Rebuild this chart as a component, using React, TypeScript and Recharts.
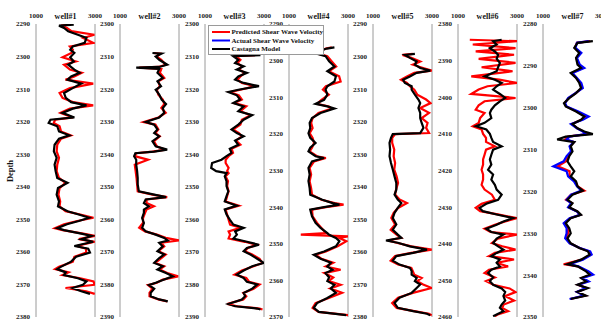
import React from 'react';
import { ScatterChart, Scatter, XAxis, YAxis, Label } from 'recharts';

const FONT = '"Liberation Serif", "Times New Roman", serif';

// ---------- well #1 ----------
const depth1 = [2290.2, 2290.5, 2291.2, 2292.2, 2293.3, 2294.3, 2295.8, 2296.9, 2297.9, 2298.9, 2300.2, 2301.5, 2302.5, 2304, 2305, 2306.1, 2307.1, 2308.3, 2309.7, 2311.2, 2312.7, 2314, 2315, 2316, 2317.3, 2318.7, 2319.4, 2320.4, 2321.4, 2323, 2324.2, 2325.2, 2327.1, 2329.1, 2331.1, 2333.2, 2335.2, 2337.3, 2338.8, 2340.4, 2342.4, 2344.5, 2346, 2347.5, 2348.5, 2349.5, 2350.5, 2351.5, 2352.7, 2353.3, 2354.4, 2355.1, 2356.1, 2356.9, 2358.2, 2359, 2360.2, 2361.5, 2363, 2364.6, 2365.3, 2366.3, 2367.1, 2368.1, 2369.1, 2370.1, 2371.1, 2372.1, 2372.9];
const castagna1 = [2280, 1780, 1950, 2090, 2420, 2710, 2650, 2245, 2160, 2300, 2160, 2280, 2090, 2300, 2480, 2190, 2070, 2535, 2245, 1950, 2010, 2190, 2710, 2245, 1895, 2300, 1490, 1430, 1720, 1780, 2130, 1780, 1630, 1605, 1700, 1630, 1665, 1720, 2070, 1745, 1700, 1780, 1745, 2070, 2450, 2800, 2450, 2050, 1720, 1950, 2535, 2880, 2535, 2940, 2300, 2770, 2830, 2360, 2190, 1840, 1720, 2010, 1950, 2420, 2710, 2590, 2240, 2535, 2830];
const predicted1 = [2100, 1850, 2050, 2200, 2980, 2600, 2940, 2150, 2250, 2200, 1900, 2350, 1950, 2150, 2550, 2300, 2000, 2940, 2150, 1800, 1900, 2250, 2940, 2150, 1830, 2250, 1650, 1600, 1800, 1850, 2180, 1850, 1720, 1700, 1780, 1720, 1700, 1780, 2000, 1800, 1760, 1820, 1800, 2000, 2500, 2950, 2400, 1950, 1640, 1900, 2600, 3000, 2450, 2990, 2380, 2700, 2700, 2300, 2250, 1780, 1650, 2100, 1900, 2500, 2950, 2990, 2000, 2700, 2990];

// ---------- well #2 ----------
const depth2 = [2308.9, 2309.1, 2310, 2311, 2312.5, 2313.2, 2313.4, 2313.8, 2315, 2316.6, 2317.6, 2319.1, 2320.2, 2321.7, 2323.2, 2324.6, 2325.8, 2327.3, 2328.7, 2330.1, 2330.9, 2332.4, 2333.5, 2334.5, 2336, 2337.6, 2338.6, 2339.2, 2339.7, 2340.6, 2341.7, 2343.2, 2345.2, 2347.3, 2349.3, 2351.4, 2352.4, 2353.2, 2353.9, 2355, 2356, 2357, 2358, 2359.6, 2361.1, 2362.6, 2363.7, 2364.7, 2365.7, 2366.5, 2367.2, 2368.3, 2369.8, 2370.8, 2371.9, 2373.4, 2374.4, 2375.4, 2376.5, 2377.5, 2378.5, 2379.5, 2380.2, 2381.3, 2382.6, 2383.6, 2384.6, 2385.2];
const castagna2 = [2100, 2410, 2210, 2330, 2600, 2330, 1550, 2330, 2270, 2450, 2270, 2390, 2210, 2330, 2410, 2560, 2450, 2500, 2330, 1870, 2160, 2270, 2160, 2330, 2100, 2210, 2600, 2160, 1520, 1480, 1550, 1550, 1580, 1600, 1600, 1640, 2160, 2560, 1870, 1810, 1980, 1810, 1810, 1750, 1810, 1750, 1870, 2210, 2500, 2620, 2330, 2450, 2270, 2500, 2330, 2160, 2450, 2270, 2560, 2790, 2500, 2210, 1980, 2160, 2040, 2040, 2330, 2620];
const predicted2 = [2150, 2350, 2250, 2400, 2550, 2300, 1650, 2400, 2350, 2500, 2300, 2350, 2250, 2300, 2450, 2500, 2400, 2550, 2300, 1800, 2200, 2300, 2200, 2350, 2150, 2250, 2550, 2100, 1550, 1500, 1950, 1500, 1530, 1560, 1580, 1600, 2100, 2600, 1900, 1900, 2150, 1900, 1850, 1780, 1780, 1650, 1850, 2250, 2550, 3000, 2400, 2500, 2300, 2550, 2400, 2200, 2500, 2350, 2600, 2970, 2450, 2250, 1950, 2100, 2000, 2000, 2300, 2600];

// ---------- well #3 ----------
const depth3 = [2309.6, 2309.9, 2311, 2312, 2313, 2314, 2315, 2316.1, 2317.1, 2318.1, 2319.1, 2320.2, 2320.9, 2321.9, 2323.2, 2324.3, 2325.3, 2326.8, 2328, 2329.4, 2330.9, 2332.4, 2333.5, 2334.5, 2335.8, 2337.1, 2338.3, 2339.6, 2340.6, 2341.7, 2342.7, 2344.2, 2345.2, 2345.8, 2346.8, 2348.3, 2349.8, 2351.4, 2352.9, 2354.5, 2355.8, 2357, 2358.5, 2360.1, 2361.6, 2362.6, 2363.7, 2364.7, 2365.9, 2366.9, 2367.8, 2368.8, 2369.8, 2370.8, 2372.1, 2373.4, 2374.4, 2375.7, 2377, 2378, 2379.2, 2380, 2381.3, 2382.6, 2383.6, 2384.6, 2386, 2386.7, 2387.4, 2387.7];
const castagna3 = [2880, 1960, 2130, 2020, 2310, 2080, 2420, 2130, 2020, 2310, 2830, 2130, 1790, 2080, 2190, 1960, 2310, 2130, 2600, 2310, 2130, 1900, 2080, 2310, 2020, 2130, 1840, 1900, 1730, 1560, 1240, 1210, 1380, 1730, 1670, 1730, 1730, 1790, 1730, 1670, 2080, 1670, 1730, 1840, 1960, 2310, 2020, 2080, 1960, 2420, 2830, 2420, 2310, 2540, 2770, 3000, 2600, 2310, 2080, 2310, 2420, 2770, 2600, 2310, 2360, 2250, 1790, 2020, 2770, 2880];
const predicted3 = [2700, 2050, 2200, 2100, 2250, 2150, 2350, 2200, 2100, 2250, 2700, 2200, 1850, 2150, 2250, 2000, 2400, 2200, 2550, 2250, 2200, 1950, 2150, 2250, 2050, 2200, 1900, 1950, 1800, 1700, 1700, 1800, 1750, 1800, 1700, 1780, 1750, 1800, 1750, 1700, 2150, 1700, 1750, 1800, 1850, 2200, 1800, 1850, 1800, 2350, 2750, 2450, 2350, 2600, 2850, 2950, 2650, 2250, 2000, 2400, 2500, 2850, 2650, 2300, 2400, 2300, 1750, 2100, 2850, 2950];

// ---------- well #4 ----------
const depth4 = [2296.4, 2296.7, 2297.9, 2298.8, 2300.2, 2301.6, 2302.9, 2304.3, 2305.7, 2307, 2307.9, 2309.3, 2310.7, 2311.8, 2312.5, 2313.1, 2314.3, 2315.7, 2317, 2318.4, 2319.8, 2321.1, 2322.5, 2323.8, 2324.8, 2326.1, 2326.6, 2327.5, 2329.3, 2331.1, 2332.9, 2334.8, 2336.6, 2338, 2338.9, 2339.3, 2340, 2340.7, 2342.5, 2344.3, 2345.7, 2347.1, 2347.5, 2348, 2348.4, 2349.3, 2350.7, 2352.1, 2353, 2354.1, 2355.2, 2356.2, 2357.1, 2358, 2359.2, 2360.2, 2361.2, 2362.2, 2363.4, 2364.8, 2366.2, 2367.5, 2368.6, 2369.2, 2369.5];
const castagna4 = [2540, 2280, 1840, 2240, 2360, 2540, 2300, 2590, 2540, 2300, 2240, 2300, 2190, 1900, 2300, 2540, 2070, 1780, 1700, 1720, 1660, 1720, 1900, 1720, 1660, 1900, 2190, 1780, 1660, 1700, 1660, 1700, 1720, 2130, 2480, 2710, 2190, 1720, 1780, 1900, 2070, 2300, 2350, 2480, 2590, 2710, 2590, 2190, 1840, 2070, 2420, 2300, 2480, 2240, 2360, 2300, 2540, 2420, 2590, 2300, 1950, 1840, 2010, 2650, 2940];
const predicted4 = [2450, 2250, 1900, 2300, 2450, 2600, 2350, 2700, 2750, 2250, 2150, 2350, 2100, 1950, 2350, 2450, 2000, 1800, 1750, 1800, 1700, 1800, 1850, 1780, 1700, 1950, 2250, 1850, 1700, 1750, 1700, 1750, 1780, 2100, 2550, 2850, 2250, 1780, 1800, 1950, 2100, 2250, 1400, 3000, 2700, 2950, 2650, 2250, 1900, 2100, 2500, 2250, 2750, 2200, 2500, 2350, 2750, 2400, 2800, 2350, 1900, 1800, 2000, 2700, 3000];

// ---------- well #5 ----------
const depth5 = [2299.2, 2299.5, 2300.4, 2301.5, 2302.5, 2303.5, 2304.3, 2305, 2306.1, 2307.1, 2308.1, 2309.1, 2310.2, 2311.7, 2313.2, 2314.3, 2315.8, 2317.3, 2318.9, 2320.4, 2321.9, 2323.5, 2323.8, 2325, 2326.5, 2328.6, 2330.6, 2332.7, 2334.7, 2336.8, 2338.8, 2340.9, 2342.4, 2343.9, 2345, 2346.5, 2348, 2349.6, 2351.6, 2353.2, 2354.7, 2355.7, 2356.5, 2357.2, 2358.3, 2359.3, 2360.3, 2361.3, 2362.7, 2363.9, 2364.9, 2365.9, 2367, 2368, 2369, 2370, 2371.1, 2372.6, 2374.1, 2375.7, 2377.2, 2378.2, 2379, 2379.5];
const castagna5 = [2420, 2080, 2250, 2480, 2420, 2600, 2940, 2480, 2250, 2020, 2080, 2310, 2310, 2420, 2540, 2600, 2540, 2600, 2600, 2650, 2710, 2600, 1670, 1610, 1560, 1580, 1560, 1610, 1670, 1730, 1790, 1790, 1730, 1840, 1960, 1840, 1730, 1670, 1790, 1670, 1840, 1960, 1440, 1840, 2250, 2830, 2360, 1790, 1670, 1900, 2250, 2310, 2310, 2480, 2420, 2600, 2480, 2310, 1900, 1730, 1840, 2360, 2830, 2940];
const predicted5 = [2350, 2000, 2300, 2600, 2350, 2700, 2990, 2400, 2150, 1950, 2150, 2250, 2400, 2500, 2800, 2950, 2600, 2900, 2650, 2850, 2800, 2900, 1750, 1650, 1650, 1720, 1700, 1750, 1720, 1800, 1850, 1780, 1750, 1900, 2150, 1850, 1700, 1620, 1750, 1600, 1800, 1950, 1500, 1800, 2300, 2990, 2300, 1750, 1600, 1850, 2300, 2350, 2400, 2650, 2500, 2700, 2990, 2350, 1850, 1650, 1800, 2400, 2900, 2990];

// ---------- well #6 ----------
const depth6 = [2384.3, 2384.7, 2385.6, 2386.6, 2387.5, 2388.4, 2389.5, 2390.6, 2391.8, 2392.9, 2394.3, 2395.2, 2396.1, 2397, 2397.9, 2399.1, 2400.2, 2401.1, 2402.2, 2403.4, 2404.3, 2405.7, 2407, 2407.9, 2408.8, 2410, 2411.1, 2412.2, 2413.4, 2414.3, 2415.7, 2417, 2418.4, 2419.8, 2421.1, 2422.5, 2423.9, 2425.2, 2426.6, 2428, 2429.1, 2430.2, 2431.1, 2432, 2433, 2433.9, 2434.8, 2435.9, 2436.8, 2437.5, 2438.6, 2439.8, 2440.7, 2441.6, 2442.5, 2443.4, 2444.3, 2445.2, 2446.2, 2447.1, 2448, 2449.2, 2450.2, 2451.2, 2452.2, 2453.2, 2454.3, 2455.5, 2456.6, 2457.5, 2458.4, 2459.3, 2459.8];
const castagna6 = [2480, 2190, 2310, 2080, 2250, 2360, 2310, 2420, 2360, 2310, 1900, 2250, 2480, 2310, 2190, 2420, 2600, 2420, 2250, 2130, 2080, 2130, 1900, 1610, 1960, 2080, 2130, 2190, 2480, 2190, 2130, 2080, 2130, 2020, 2190, 2130, 2250, 2310, 2480, 2360, 1960, 1730, 1840, 2310, 2880, 2540, 2310, 1960, 2130, 2540, 2310, 2190, 2360, 2540, 2310, 2130, 2420, 2310, 2420, 2130, 2020, 2190, 2080, 2190, 2480, 2600, 2540, 2600, 2480, 2420, 2540, 2310, 2190];
const predicted6 = [1400, 3000, 1500, 2950, 1600, 2900, 1700, 2950, 1800, 2850, 1450, 2400, 3000, 2000, 1700, 1450, 2950, 1900, 1700, 1600, 1900, 1750, 1700, 1500, 1800, 1850, 1950, 1950, 2250, 1950, 1900, 1850, 1850, 1800, 1850, 1850, 1800, 1900, 2150, 2250, 1800, 1600, 1750, 2350, 3000, 2600, 2250, 1900, 2100, 3000, 2350, 2150, 2500, 2950, 2250, 2050, 2900, 2300, 2700, 2050, 1900, 2250, 1950, 2200, 2750, 2950, 2600, 2900, 2550, 2500, 2700, 2350, 2250];

// ---------- well #7 ----------
const depth7 = [2284.1, 2284.5, 2285.7, 2286.9, 2288.1, 2289.7, 2290.5, 2291.7, 2292.9, 2294.1, 2295.3, 2296.5, 2297.7, 2298.9, 2299.7, 2300.9, 2302.1, 2302.9, 2303.9, 2304.9, 2305.7, 2306.3, 2306.9, 2307.6, 2308.2, 2309.2, 2310.4, 2311.6, 2312.8, 2314, 2315.2, 2316.4, 2317.6, 2318.8, 2319.8, 2320.8, 2322, 2322.8, 2323.8, 2324.8, 2325.6, 2326.4, 2327.6, 2328.8, 2330, 2331.2, 2332.4, 2333.5, 2334.3, 2335.1, 2336.3, 2337.4, 2337.9, 2339.1, 2339.9, 2340.7, 2341.5, 2342.3, 2343.1, 2344, 2344.9, 2345.7];
const castagna7 = [2690, 2170, 2060, 2230, 2120, 2170, 2290, 1940, 2120, 2230, 2290, 2120, 1890, 1710, 1770, 2120, 2400, 2290, 2000, 2170, 2400, 2690, 1770, 1480, 2060, 1940, 2000, 1890, 1830, 1940, 2060, 1940, 2120, 2170, 2350, 2000, 1830, 2000, 1890, 2170, 2290, 1940, 1770, 1890, 1940, 1830, 1940, 2230, 2520, 2580, 2290, 1830, 2170, 2460, 2580, 2290, 2460, 2170, 2520, 2170, 2460, 1940];
const actual7 = [2550, 2150, 2100, 2300, 2150, 2250, 2400, 2000, 2150, 2300, 2350, 2100, 1850, 1750, 1800, 2200, 2550, 2350, 1950, 2150, 2350, 2450, 1900, 1800, 2050, 1900, 1950, 1800, 1700, 1350, 1800, 1850, 2050, 2150, 2300, 1950, 1800, 1950, 1850, 2150, 2250, 1900, 1700, 1800, 1800, 1750, 1900, 2250, 2600, 2650, 2350, 1900, 2200, 2550, 2700, 2350, 2550, 2200, 2450, 2150, 2400, 1900];
const predicted7 = [2600, 2150, 2080, 2260, 2130, 2200, 2350, 1980, 2130, 2260, 2320, 2110, 1870, 1730, 1790, 2150, 2450, 2300, 1980, 2160, 2380, 2500, 1850, 1750, 2050, 1920, 1980, 1850, 1780, 1500, 1900, 1900, 2100, 2180, 2400, 1950, 1780, 1980, 1870, 2160, 2270, 1920, 1720, 1850, 1850, 1780, 1920, 2240, 2560, 2620, 2320, 1700, 2180, 2500, 2640, 2320, 2500, 2190, 2480, 2160, 2430, 1920];

// ---------- axes ----------
const wellNames = ['well#1', 'well#2', 'well#3', 'well#4', 'well#5', 'well#6', 'well#7'];
const velocityTicks = [1000, 3000];
const depthTicks1 = [2290, 2300, 2310, 2320, 2330, 2340, 2350, 2360, 2370, 2380];
const depthTicks2 = [2300, 2310, 2320, 2330, 2340, 2350, 2360, 2370, 2380, 2390];
const depthTicks3 = [2300, 2310, 2320, 2330, 2340, 2350, 2360, 2370, 2380, 2390];
const depthTicks4 = [2290, 2300, 2310, 2320, 2330, 2340, 2350, 2360, 2370];
const depthTicks5 = [2290, 2300, 2310, 2320, 2330, 2340, 2350, 2360, 2370, 2380];
const depthTicks6 = [2380, 2390, 2400, 2410, 2420, 2430, 2440, 2450, 2460];
const depthTicks7 = [2280, 2290, 2300, 2310, 2320, 2330, 2340, 2350];
const legendLabels = ['Predicted Shear Wave Velocity', 'Actual Shear Wave Velocity', 'Castagna Model'];

const RED = '#ff0000';
const BLUE = '#0000ff';
const BLACK = '#000000';
const AXIS = '#9a9a9a';

type PanelDef = {
  name: string;
  left: number;
  ticks: number[];
  depth: number[];
  predicted: number[];
  castagna: number[];
  actual?: number[];
};

const panels: PanelDef[] = [
  { name: wellNames[0], left: 36, ticks: depthTicks1, depth: depth1, predicted: predicted1, castagna: castagna1 },
  { name: wellNames[1], left: 120, ticks: depthTicks2, depth: depth2, predicted: predicted2, castagna: castagna2 },
  { name: wellNames[2], left: 205, ticks: depthTicks3, depth: depth3, predicted: predicted3, castagna: castagna3 },
  { name: wellNames[3], left: 289, ticks: depthTicks4, depth: depth4, predicted: predicted4, castagna: castagna4 },
  { name: wellNames[4], left: 373, ticks: depthTicks5, depth: depth5, predicted: predicted5, castagna: castagna5 },
  { name: wellNames[5], left: 458, ticks: depthTicks6, depth: depth6, predicted: predicted6, castagna: castagna6 },
  { name: wellNames[6], left: 543, ticks: depthTicks7, depth: depth7, predicted: predicted7, castagna: castagna7, actual: actual7 },
];

const zip = (depth: number[], vals: number[]) => depth.map((d, i) => ({ d, v: vals[i] }));

const tickStyle = { fontSize: 7, fontFamily: FONT, fontWeight: 700, fill: '#222' };
const noShape = () => <g />;

const PLOT_W = 58;
const Y_W = 30;
const M_L = 2;
const M_R = 16;
const LW = 2.2;

function WellPanel({ p }: { p: PanelDef }) {
  const width = M_L + Y_W + PLOT_W + 1 + M_R;
  const domain: [number, number] = [p.ticks[0], p.ticks[p.ticks.length - 1]];
  return (
    <div style={{ position: 'absolute', left: p.left - Y_W - M_L, top: 0 }}>
      <ScatterChart width={width} height={321} margin={{ top: 4, right: M_R, bottom: 4, left: M_L }}>
        <XAxis
          xAxisId="x"
          type="number"
          dataKey="v"
          orientation="top"
          domain={[1000, 3000]}
          ticks={velocityTicks}
          interval={0}
          height={20}
          axisLine={false}
          tickLine={false}
          tickSize={4}
          tickMargin={2}
          tick={tickStyle}
          allowDataOverflow
        >
          <Label
            content={(props: any) => {
              const vb = props.viewBox || {};
              return (
                <text
                  x={(vb.x ?? 0) + (vb.width ?? 0) / 2}
                  y={18.5}
                  textAnchor="middle"
                  fontFamily={FONT}
                  fontWeight={700}
                  fontSize={8}
                  fill="#111"
                >
                  {p.name}
                </text>
              );
            }}
          />
        </XAxis>
        <YAxis
          yAxisId="y"
          type="number"
          dataKey="d"
          domain={domain}
          reversed
          ticks={p.ticks}
          interval={0}
          width={Y_W}
          axisLine={{ stroke: AXIS }}
          tickLine={false}
          tickSize={4}
          tickMargin={2}
          tick={tickStyle}
          allowDataOverflow
        />
        <YAxis
          yAxisId="r"
          orientation="right"
          type="number"
          domain={domain}
          reversed
          ticks={p.ticks}
          interval={0}
          width={1}
          mirror
          tick={false}
          tickSize={3}
          tickLine={{ stroke: AXIS }}
          axisLine={{ stroke: AXIS }}
          allowDataOverflow
        />
        <Scatter
          xAxisId="x"
          yAxisId="y"
          data={zip(p.depth, p.predicted)}
          line={{ stroke: RED, strokeWidth: LW }}
          lineType="joint"
          shape={noShape}
          isAnimationActive={false}
        />
        {p.actual && (
          <Scatter
            xAxisId="x"
            yAxisId="y"
            data={zip(p.depth, p.actual)}
            line={{ stroke: BLUE, strokeWidth: LW }}
            lineType="joint"
            shape={noShape}
            isAnimationActive={false}
          />
        )}
        <Scatter
          xAxisId="x"
          yAxisId="y"
          data={zip(p.depth, p.castagna)}
          line={{ stroke: BLACK, strokeWidth: LW }}
          lineType="joint"
          shape={noShape}
          isAnimationActive={false}
        />
      </ScatterChart>
    </div>
  );
}

export default function App() {
  const legendColors = [RED, BLUE, BLACK];
  return (
    <div
      style={{
        position: 'absolute',
        left: 0,
        top: 0,
        width: 601,
        height: 321,
        overflow: 'hidden',
        background: '#fff',
      }}
    >
      {panels.map((p) => (
        <WellPanel key={p.name} p={p} />
      ))}
      <svg
        width={601}
        height={321}
        style={{ position: 'absolute', left: 0, top: 0, pointerEvents: 'none' }}
      >
        <text
          x={13}
          y={171}
          transform="rotate(-90, 13, 171)"
          textAnchor="middle"
          fontFamily={FONT}
          fontWeight={700}
          fontSize={8.5}
          fill="#111"
        >
          Depth
        </text>
        <rect x={208.5} y={25.5} width={115} height={29} fill="#fff" stroke={AXIS} strokeWidth={1} />
        {legendLabels.map((t, i) => (
          <g key={t}>
            <line x1={212} x2={230} y1={32 + i * 8.5} y2={32 + i * 8.5} stroke={legendColors[i]} strokeWidth={2} />
            <text
              x={231.5}
              y={34.3 + i * 8.5}
              fontFamily={FONT}
              fontWeight={700}
              fontSize={7}
              fill="#111"
            >
              {t}
            </text>
          </g>
        ))}
      </svg>
    </div>
  );
}
